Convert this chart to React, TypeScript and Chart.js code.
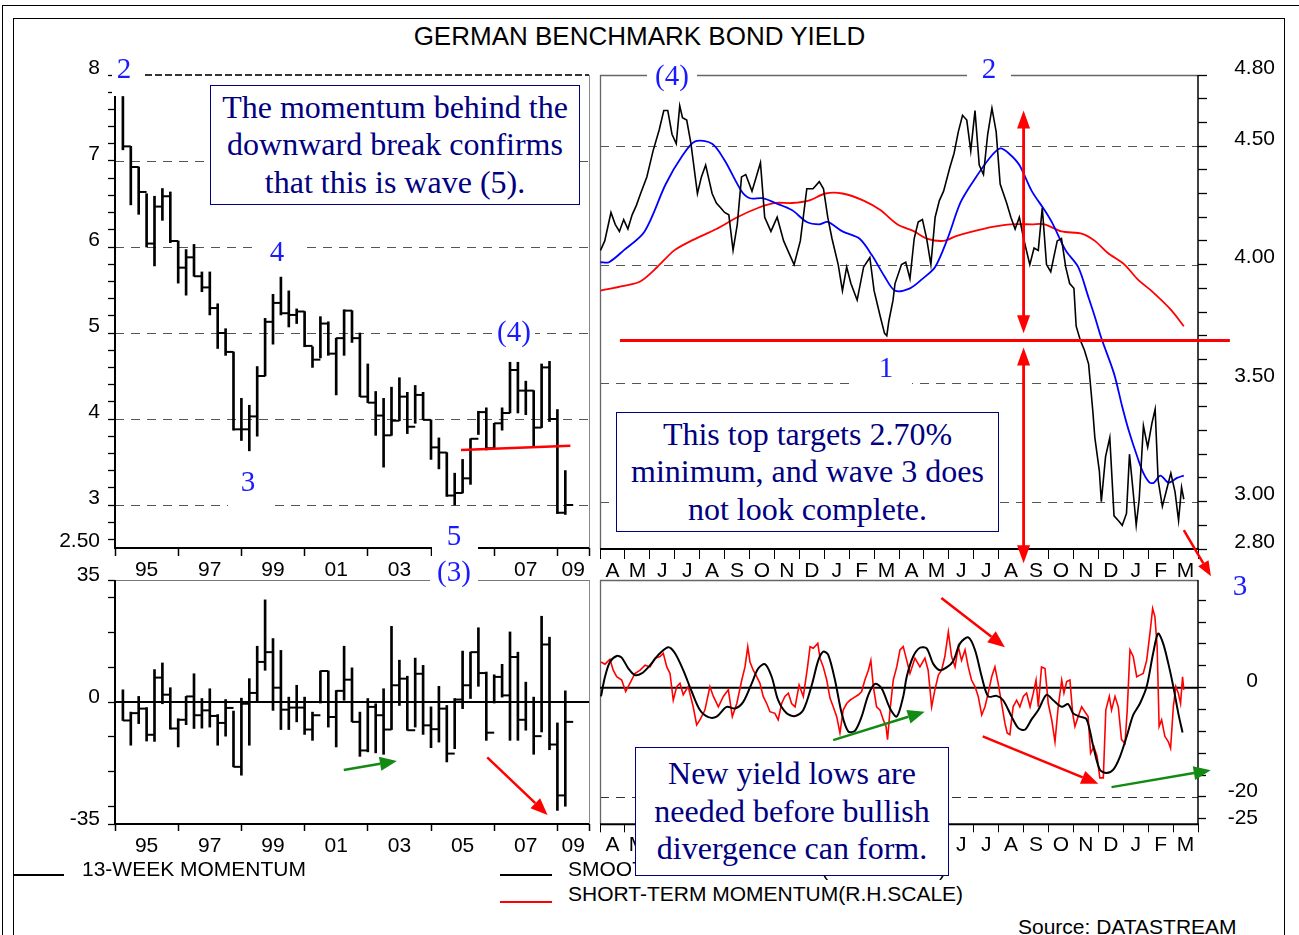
import React, { useEffect, useRef } from 'react';
import { Chart, registerables } from 'chart.js';

Chart.register(...registerables);

const SANS = "'Liberation Sans', Arial, Helvetica, sans-serif";
const SERIF = "'Liberation Serif', 'Times New Roman', Times, serif";
const BLUE = '#1a1aff';
const NAVY = '#000080';
const RED = '#ff0000';
const GREEN = '#138a13';
const GRID = '#555555';
const TRANSPARENT = 'rgba(0,0,0,0)';
const TICK_FONT = { family: SANS, size: 21 };

// ---------------- DATA ----------------
// Top-left: quarterly German benchmark yield, high / low / close (%)
const quarters = [
  '95Q1', '95Q2', '95Q3', '95Q4', '96Q1', '96Q2', '96Q3', '96Q4', '97Q1', '97Q2', '97Q3', '97Q4',
  '98Q1', '98Q2', '98Q3', '98Q4', '99Q1', '99Q2', '99Q3', '99Q4', '00Q1', '00Q2', '00Q3', '00Q4',
  '01Q1', '01Q2', '01Q3', '01Q4', '02Q1', '02Q2', '02Q3', '02Q4', '03Q1', '03Q2', '03Q3', '03Q4',
  '04Q1', '04Q2', '04Q3', '04Q4', '05Q1', '05Q2', '05Q3', '05Q4', '06Q1', '06Q2', '06Q3', '06Q4',
  '07Q1', '07Q2', '07Q3', '07Q4', '08Q1', '08Q2', '08Q3', '08Q4', '09Q1',
];
const yieldHigh = [7.75, 7.17, 6.93, 6.62, 6.59, 6.68, 6.64, 6.07, 5.97, 6.03, 5.71, 5.71, 5.34, 5.05, 4.78, 4.24, 4.16, 4.61, 5.17, 5.45, 5.65, 5.49, 5.28, 5.25, 4.84, 5.19, 5.13, 4.94, 5.27, 5.26, 5.0, 4.64, 4.32, 4.24, 4.37, 4.48, 4.31, 4.39, 4.31, 3.99, 3.78, 3.61, 3.37, 3.53, 3.77, 4.09, 4.13, 3.95, 4.13, 4.66, 4.66, 4.44, 4.33, 4.64, 4.67, 4.11, 3.4];
const yieldLow = [7.13, 6.49, 6.38, 6.0, 5.78, 6.31, 6.05, 5.58, 5.44, 5.66, 5.48, 5.21, 4.82, 4.74, 3.87, 3.75, 3.63, 3.8, 4.5, 4.87, 5.21, 5.07, 5.11, 4.84, 4.6, 4.71, 4.74, 4.28, 4.74, 4.89, 4.26, 4.19, 3.81, 3.44, 3.81, 3.98, 3.83, 3.95, 3.99, 3.53, 3.42, 3.1, 3.0, 3.14, 3.24, 3.82, 3.64, 3.66, 3.87, 4.07, 4.07, 4.05, 3.69, 3.9, 3.97, 2.9, 2.89];
const yieldClose = [7.17, 6.93, 6.64, 6.04, 6.47, 6.59, 6.07, 5.76, 5.88, 5.66, 5.53, 5.29, 5.0, 4.78, 3.88, 3.88, 4.03, 4.5, 5.13, 5.35, 5.23, 5.21, 5.25, 4.85, 4.69, 5.11, 4.76, 4.94, 5.26, 4.94, 4.26, 4.19, 4.04, 3.81, 3.98, 4.26, 3.91, 4.28, 3.99, 3.67, 3.61, 3.11, 3.14, 3.31, 3.77, 4.08, 3.66, 3.95, 4.07, 4.57, 4.33, 4.33, 3.9, 4.6, 4.0, 2.91, 3.0];

// Bottom-left: 13-week momentum per quarter, high / low / close
const momHigh = [3.5, -2.9, 1.6, -1.6, 9.3, 11.2, 4.1, -4.8, 1.6, 8.1, 1.0, 3.8, -3.6, 0.7, -2.6, 1.1, 6.7, 16.0, 29.3, 18.2, 14.8, 1.4, 4.8, 1.4, -2.9, 8.9, 8.9, 3.3, 16.0, 9.8, -2.9, 1.0, -0.5, 3.8, 21.7, 12.0, 7.4, 12.6, 10.5, -1.4, 4.5, -1.0, 1.0, 14.6, 14.3, 21.3, 8.6, 7.8, 10.8, 20.1, 14.3, 5.7, 1.4, 24.6, 18.6, -6.0, 3.2];
const momLow = [-5.3, -12.4, -6.2, -11.2, -11.3, -0.5, -7.8, -12.9, -6.5, -7.6, -7.5, -7.2, -12.4, -9.8, -18.6, -21.0, -12.4, 0.0, 9.1, -2.4, -7.9, -7.9, -5.7, -9.3, -11.0, -0.3, -7.2, -12.9, 0.5, -5.7, -15.6, -14.3, -14.6, -15.0, -7.9, -1.0, -8.1, -7.2, -9.3, -13.1, -11.5, -17.2, -13.4, -1.9, 1.0, 4.5, -11.0, -0.3, 1.4, -11.0, -11.0, -8.1, -15.0, -8.6, -13.7, -31.1, -29.9];
const momClose = [-5.3, -3.2, -1.9, -9.4, 7.0, 2.1, -7.6, -5.1, 1.6, -3.8, -2.4, -4.0, -6.0, -1.7, -18.6, -0.5, 2.6, 11.5, 14.3, 4.1, -2.2, -1.6, -1.6, -7.9, -3.8, 8.9, -4.3, 3.2, 6.4, -5.7, -13.9, -1.4, -3.8, -7.9, 4.8, 6.7, -8.1, 8.1, -6.7, -7.8, -1.9, -14.8, 0.7, 4.8, 14.3, 8.3, -8.8, 7.2, 1.9, 12.9, -5.1, 0.0, -9.8, 16.5, -12.2, -26.8, -5.7];

// Top-right: daily yield Apr 2007 - Mar 2009 (x = months since 1 Apr 2007)
const dailyMonth = [0.02, 0.19, 0.44, 0.61, 0.78, 0.95, 1.12, 1.29, 1.46, 1.63, 1.88, 2.13, 2.38, 2.56, 2.72, 2.89, 3.06, 3.2, 3.31, 3.48, 3.65, 3.91, 4.07, 4.24, 4.5, 4.67, 4.84, 5.0, 5.17, 5.34, 5.51, 5.68, 5.85, 6.1, 6.27, 6.44, 6.61, 6.86, 7.11, 7.37, 7.62, 7.79, 8.04, 8.3, 8.55, 8.8, 8.97, 9.14, 9.31, 9.56, 9.73, 9.9, 10.07, 10.32, 10.58, 10.83, 11.0, 11.25, 11.42, 11.51, 11.59, 11.76, 11.84, 12.1, 12.27, 12.44, 12.61, 12.77, 12.94, 13.11, 13.28, 13.45, 13.62, 13.79, 14.04, 14.21, 14.38, 14.55, 14.72, 14.88, 15.05, 15.22, 15.39, 15.56, 15.73, 15.9, 16.06, 16.32, 16.49, 16.66, 16.83, 17.0, 17.25, 17.42, 17.59, 17.75, 17.92, 18.09, 18.35, 18.52, 18.69, 18.85, 19.02, 19.11, 19.28, 19.44, 19.61, 19.78, 19.86, 20.04, 20.12, 20.29, 20.46, 20.63, 20.8, 20.96, 21.13, 21.25, 21.39, 21.52, 21.64, 21.81, 21.98, 22.15, 22.28, 22.4, 22.57, 22.74, 22.91, 23.08, 23.22, 23.34, 23.43];
const dailyYield = [4.06, 4.1, 4.22, 4.17, 4.14, 4.19, 4.15, 4.21, 4.25, 4.3, 4.37, 4.48, 4.57, 4.65, 4.65, 4.55, 4.51, 4.67, 4.62, 4.61, 4.51, 4.3, 4.37, 4.42, 4.3, 4.26, 4.24, 4.22, 4.21, 4.06, 4.17, 4.37, 4.38, 4.31, 4.37, 4.43, 4.2, 4.14, 4.2, 4.1, 4.04, 4.0, 4.1, 4.32, 4.32, 4.35, 4.32, 4.2, 4.11, 4.0, 3.89, 3.99, 3.92, 3.85, 3.99, 4.03, 3.89, 3.78, 3.71, 3.7, 3.76, 3.85, 3.92, 4.0, 4.01, 3.94, 4.11, 4.18, 4.19, 4.11, 4.0, 4.2, 4.27, 4.31, 4.41, 4.47, 4.56, 4.63, 4.61, 4.48, 4.65, 4.42, 4.38, 4.55, 4.66, 4.56, 4.34, 4.26, 4.2, 4.15, 4.2, 4.11, 4.0, 4.07, 4.06, 4.24, 4.0, 3.97, 4.1, 4.11, 3.99, 3.92, 3.9, 3.74, 3.68, 3.64, 3.58, 3.38, 3.27, 3.13, 3.0, 3.19, 3.27, 2.94, 2.92, 2.9, 2.95, 3.2, 3.05, 2.9, 3.01, 3.32, 3.23, 3.33, 3.39, 3.09, 2.98, 3.05, 3.12, 3.04, 2.92, 3.06, 3.01];
const shortAvgMonth = [0.02, 0.36, 0.95, 1.79, 2.64, 3.31, 3.82, 4.5, 5.0, 5.68, 6.02, 6.52, 7.03, 7.7, 8.3, 8.8, 9.14, 9.73, 10.41, 10.91, 11.42, 11.84, 12.44, 12.94, 13.45, 13.95, 14.46, 14.97, 15.64, 16.06, 16.4, 16.83, 17.33, 17.84, 18.18, 18.69, 19.19, 19.61, 19.86, 20.12, 20.63, 20.96, 21.22, 21.56, 21.81, 22.06, 22.23, 22.49, 22.82, 23.16, 23.43];
const shortAvgValue = [4.01, 4.01, 4.06, 4.14, 4.34, 4.46, 4.52, 4.51, 4.44, 4.31, 4.28, 4.28, 4.26, 4.23, 4.18, 4.17, 4.18, 4.14, 4.11, 4.04, 3.95, 3.89, 3.9, 3.94, 3.99, 4.11, 4.26, 4.35, 4.45, 4.49, 4.47, 4.42, 4.31, 4.23, 4.17, 4.06, 3.99, 3.86, 3.78, 3.69, 3.54, 3.4, 3.3, 3.19, 3.12, 3.08, 3.08, 3.11, 3.08, 3.1, 3.11];
const longAvgMonth = [0.02, 0.95, 1.63, 2.3, 2.98, 3.65, 4.67, 5.51, 6.36, 7.03, 7.7, 8.38, 9.05, 9.73, 10.58, 11.25, 11.93, 12.61, 13.11, 13.79, 14.29, 14.97, 15.81, 16.49, 17.33, 17.84, 18.52, 19.36, 19.86, 20.37, 21.05, 21.56, 22.23, 22.91, 23.43];
const longAvgValue = [3.89, 3.91, 3.93, 3.99, 4.06, 4.1, 4.15, 4.2, 4.24, 4.26, 4.26, 4.27, 4.3, 4.3, 4.27, 4.23, 4.17, 4.14, 4.11, 4.1, 4.12, 4.14, 4.16, 4.17, 4.17, 4.17, 4.14, 4.13, 4.1, 4.05, 4.0, 3.94, 3.88, 3.81, 3.74];

// Bottom-right: smoothed momentum and short-term momentum
const smoothMonth = [0.04, 0.2, 0.4, 0.67, 0.87, 1.14, 1.4, 1.67, 2.01, 2.34, 2.74, 3.01, 3.34, 3.68, 4.01, 4.35, 4.68, 5.08, 5.42, 5.75, 6.09, 6.35, 6.62, 6.89, 7.15, 7.49, 7.83, 8.16, 8.5, 8.76, 8.96, 9.16, 9.43, 9.7, 9.96, 10.23, 10.5, 10.77, 11.04, 11.3, 11.64, 11.91, 12.17, 12.31, 12.57, 12.84, 13.11, 13.37, 13.64, 13.91, 14.18, 14.45, 14.78, 15.05, 15.32, 15.58, 15.92, 16.18, 16.52, 16.79, 17.05, 17.32, 17.59, 17.92, 18.19, 18.53, 18.79, 18.99, 19.26, 19.53, 19.8, 20.06, 20.33, 20.6, 20.87, 21.14, 21.4, 21.67, 21.94, 22.2, 22.4, 22.6, 22.81, 23.01, 23.21, 23.38];
const smoothValue = [-1.6, 2.0, 4.7, 5.8, 5.5, 3.5, 2.3, 2.6, 4.1, 6.0, 7.4, 6.3, 3.2, -0.7, -4.1, -5.4, -5.3, -3.5, -3.8, -2.6, 0.8, 3.5, 4.3, 2.0, -2.3, -4.7, -5.2, -4.1, 0.5, 5.0, 6.6, 6.0, 1.4, -4.7, -8.0, -7.9, -5.3, -1.3, 0.7, -0.1, -3.8, -5.3, -1.6, 2.0, 5.7, 7.3, 7.2, 4.4, 3.2, 3.7, 4.9, 8.1, 9.2, 6.9, 2.0, -1.6, -1.5, -2.3, -5.3, -7.4, -7.7, -5.8, -4.1, -1.3, -2.3, -3.5, -3.0, -4.7, -5.3, -5.8, -10.8, -15.0, -15.6, -15.0, -12.6, -8.9, -5.0, -2.9, 0.2, 6.3, 9.9, 8.1, 4.4, 0.2, -4.7, -8.2];
const shortMonth = [0.04, 0.2, 0.4, 0.53, 0.67, 0.87, 1.03, 1.2, 1.4, 1.61, 1.81, 2.01, 2.21, 2.41, 2.54, 2.68, 2.81, 2.94, 3.08, 3.21, 3.34, 3.54, 3.74, 3.88, 4.01, 4.21, 4.41, 4.55, 4.75, 4.95, 5.15, 5.31, 5.49, 5.69, 5.82, 5.93, 6.02, 6.15, 6.29, 6.42, 6.55, 6.69, 6.82, 7.02, 7.15, 7.29, 7.42, 7.56, 7.69, 7.83, 7.99, 8.16, 8.33, 8.43, 8.56, 8.74, 8.83, 8.96, 9.1, 9.23, 9.36, 9.5, 9.63, 9.76, 9.9, 10.03, 10.16, 10.37, 10.5, 10.63, 10.77, 10.87, 10.97, 11.1, 11.24, 11.37, 11.48, 11.54, 11.64, 11.77, 11.91, 12.04, 12.17, 12.31, 12.44, 12.64, 12.84, 13.04, 13.17, 13.31, 13.44, 13.58, 13.71, 13.84, 13.98, 14.11, 14.25, 14.38, 14.51, 14.65, 14.78, 14.91, 15.05, 15.18, 15.32, 15.45, 15.58, 15.72, 15.85, 15.98, 16.12, 16.25, 16.34, 16.45, 16.58, 16.72, 16.85, 16.99, 17.12, 17.26, 17.39, 17.5, 17.59, 17.72, 17.86, 17.99, 18.13, 18.26, 18.39, 18.53, 18.62, 18.73, 18.86, 18.97, 19.06, 19.19, 19.33, 19.46, 19.59, 19.69, 19.82, 19.95, 20.06, 20.2, 20.3, 20.44, 20.53, 20.67, 20.8, 20.93, 21.07, 21.16, 21.27, 21.4, 21.54, 21.67, 21.8, 21.94, 22.07, 22.18, 22.27, 22.36, 22.44, 22.54, 22.67, 22.81, 22.9, 23.01, 23.11, 23.21, 23.3, 23.38, 23.43];
const shortValue = [4.7, 4.3, 5.2, 3.2, 2.0, 1.4, -0.7, 0.8, 2.6, 3.2, 4.1, 3.8, 5.4, 5.7, 6.3, 3.8, 2.6, -2.3, 0.2, 0.8, -1.3, 0.2, -3.5, -6.8, -5.9, -4.1, 0.2, -1.6, -3.5, -1.6, -0.4, -5.3, -2.9, 1.4, 3.8, 7.5, 4.7, 3.2, 2.0, 0.8, -1.6, -2.9, -4.4, -4.7, -5.9, -2.9, -1.6, -1.0, -2.9, -3.5, 0.5, -1.6, 3.8, 7.5, 7.2, 8.1, 5.4, 3.8, 1.4, -1.9, -3.5, -5.3, -8.3, -4.1, -2.9, -2.3, -1.9, -1.3, -0.7, 1.4, 3.2, 5.0, 0.2, -3.5, -4.1, -5.9, -7.1, -9.5, -4.1, 1.4, 3.8, 6.9, 7.5, 5.0, 2.6, 5.4, 3.8, 5.4, 3.2, -3.5, -0.4, 2.3, 3.2, 5.7, 10.2, 5.7, 3.8, 7.5, 5.0, 6.9, 3.8, 1.4, 0.2, -1.6, -5.0, -3.5, -1.0, 2.0, 3.8, 0.8, -2.9, -6.5, -8.3, -8.6, -3.5, -2.3, -3.5, -1.6, -1.0, -3.5, -1.0, 1.4, -3.5, 3.8, 3.5, -2.9, -5.9, -9.9, -3.5, 1.4, -1.0, 1.1, 1.4, -4.7, -7.1, -5.3, -3.5, -4.4, -5.3, -12.0, -10.8, -12.6, -16.5, -16.5, -4.1, -1.6, -4.1, -1.6, -3.5, -9.5, -10.2, -4.1, 6.9, 5.7, 2.0, 2.3, 2.6, 5.0, 9.9, 14.5, 13.0, 7.5, -7.1, -5.9, -8.9, -9.9, -11.1, -3.5, 0.2, -1.0, -2.9, 2.0, -0.4];

// Axis tick labels
const yearLabels = ['95', '97', '99', '01', '03', '05', '07', '09'];
const yearLabelPos = [1996, 1998, 2000, 2002, 2004, 2006, 2008, 2009.5];
const yearTickPos = [1995, 1997, 1999, 2001, 2003, 2005, 2007, 2009, 2010];
const monthLabels = ['A', 'M', 'J', 'J', 'A', 'S', 'O', 'N', 'D', 'J', 'F', 'M', 'A', 'M', 'J', 'J', 'A', 'S', 'O', 'N', 'D', 'J', 'F', 'M'];
const tlYVals = [8, 7, 6, 5, 4, 3, 2.5];
const tlYText = ['8', '7', '6', '5', '4', '3', '2.50'];
const trYVals = [4.8, 4.5, 4.0, 3.5, 3.0, 2.8];
const trYText = ['4.80', '4.50', '4.00', '3.50', '3.00', '2.80'];
const blYVals = [35, 0, -35];
const blYText = ['35', '0', '-35'];
const blYMinor = [-30, -20, -10, 10, 20, 30];
const brYVals = [0, -20, -25];
const brYText = ['0', '-20', '-25'];
const brYMinor = [-24, -16, -12, -8, -4, 4, 8, 12, 16];

// Annotations, in data units
const tlTrend = [2005.95, 3.64, 2009.41, 3.69];
const blArrows = [
  { c: GREEN, p: [2002.24, -19.5, 2003.92, -16.9] },
  { c: RED, p: [2006.78, -15.9, 2008.69, -32.4] },
];
const trSupport = [0.8, 25.28, 3.68];
const trTargetX = 17.0;
const trTargetUpper = [4.65, 3.71];
const trTargetLower = [3.65, 2.74];
const trWave3Arrow = [23.43, 2.88, 24.52, 2.685];
const brArrows = [
  { c: RED, p: [13.7, 16.4, 16.25, 7.4] },
  { c: GREEN, p: [9.36, -9.6, 13.03, -4.4] },
  { c: RED, p: [15.36, -8.9, 20.0, -17.6] },
  { c: GREEN, p: [20.53, -18.2, 24.51, -15.1] },
];

// ---------------- HELPERS ----------------
const near = (a: number, b: number) => Math.abs(a - b) < 1e-6;
const qx = (q: string) => {
  const yy = Number(q.slice(0, 2));
  return (yy > 50 ? 1900 : 2000) + yy + Number(q[3]) * 0.25;
};
const zip = (xs: number[], ys: number[]) => xs.map((x, i) => ({ x, y: ys[i] }));

function tickSet(a: number[], b: number[]) {
  const all = a.slice();
  b.forEach((m) => {
    if (!all.some((v) => near(v, m))) all.push(m);
  });
  return all.sort((p, q) => p - q);
}
function labelOf(v: number, vals: number[], texts: string[]) {
  const i = vals.findIndex((t) => near(t, v));
  return i >= 0 ? texts[i] : '';
}

function seg(ctx: any, x0: number, y0: number, x1: number, y1: number, color: string, w: number, dash: number[] = []) {
  ctx.save();
  ctx.beginPath();
  ctx.setLineDash(dash);
  ctx.strokeStyle = color;
  ctx.lineWidth = w;
  ctx.moveTo(x0, y0);
  ctx.lineTo(x1, y1);
  ctx.stroke();
  ctx.restore();
}
function head(ctx: any, x0: number, y0: number, x1: number, y1: number, color: string, len: number, half: number) {
  const a = Math.atan2(y1 - y0, x1 - x0);
  const bx = x1 - len * Math.cos(a);
  const by = y1 - len * Math.sin(a);
  ctx.save();
  ctx.fillStyle = color;
  ctx.beginPath();
  ctx.moveTo(x1, y1);
  ctx.lineTo(bx + half * Math.sin(a), by - half * Math.cos(a));
  ctx.lineTo(bx - half * Math.sin(a), by + half * Math.cos(a));
  ctx.closePath();
  ctx.fill();
  ctx.restore();
  return [bx, by];
}
function arrow(ctx: any, x0: number, y0: number, x1: number, y1: number, color: string, w = 2.5, len = 17, half = 7) {
  const [bx, by] = head(ctx, x0, y0, x1, y1, color, len, half);
  seg(ctx, x0, y0, bx, by, color, w);
}
function doubleArrow(ctx: any, x: number, yTop: number, yBot: number, color: string) {
  head(ctx, x, yBot, x, yTop, color, 18, 6.5);
  head(ctx, x, yTop, x, yBot, color, 18, 6.5);
  seg(ctx, x, yTop + 17, x, yBot - 17, color, 2.8);
}

function valueAxis(o: any) {
  const ticks = tickSet(o.vals, o.minor);
  return {
    type: 'linear',
    position: o.pos,
    min: o.min,
    max: o.max,
    afterBuildTicks: (s: any) => {
      s.ticks = ticks.map((v) => ({ value: v }));
    },
    afterFit: (s: any) => {
      s.width = o.width;
    },
    border: { display: false },
    grid: {
      drawOnChartArea: false,
      drawTicks: true,
      tickLength: o.tickLen,
      tickWidth: 1.3,
      tickColor: (c: any) => (c.tick && (o.hide || []).some((h: number) => near(h, c.tick.value)) ? TRANSPARENT : '#000'),
    },
    ticks: {
      autoSkip: false,
      padding: o.pad,
      labelOffset: o.offset,
      crossAlign: o.cross || 'near',
      color: '#000',
      font: TICK_FONT,
      callback: (v: any) => labelOf(Number(v), o.vals, o.texts),
    },
  };
}

function yearAxis(height: number, tickLen: number, pad: number) {
  const ticks = tickSet(yearLabelPos, yearTickPos);
  return {
    type: 'linear',
    min: 1995,
    max: 2010,
    offset: false,
    afterBuildTicks: (s: any) => {
      s.ticks = ticks.map((v) => ({ value: v }));
    },
    afterFit: (s: any) => {
      s.height = height;
    },
    border: { display: false },
    grid: {
      offset: false,
      drawOnChartArea: false,
      drawTicks: true,
      tickLength: tickLen,
      tickWidth: 1.5,
      tickColor: (c: any) => (c.tick && yearTickPos.some((t) => near(t, c.tick.value)) ? '#000' : TRANSPARENT),
    },
    ticks: {
      autoSkip: false,
      maxRotation: 0,
      minRotation: 0,
      padding: pad,
      color: '#000',
      font: TICK_FONT,
      callback: (v: any) => labelOf(Number(v), yearLabelPos, yearLabels),
    },
  };
}

function monthAxis(height: number, tickLen: number, pad: number) {
  const ticks: number[] = [];
  for (let k = 0; k <= 48; k++) ticks.push(k / 2);
  return {
    type: 'linear',
    min: 0,
    max: 24,
    offset: false,
    afterBuildTicks: (s: any) => {
      s.ticks = ticks.map((v) => ({ value: v }));
    },
    afterFit: (s: any) => {
      s.height = height;
    },
    border: { display: false },
    grid: {
      offset: false,
      drawOnChartArea: false,
      drawTicks: true,
      tickLength: tickLen,
      tickWidth: 1,
      tickColor: (c: any) => (c.tick && Number.isInteger(c.tick.value) ? '#000' : TRANSPARENT),
    },
    ticks: {
      autoSkip: false,
      maxRotation: 0,
      minRotation: 0,
      padding: pad,
      color: '#000',
      font: TICK_FONT,
      callback: (v: any) => {
        const n = Number(v);
        return Number.isInteger(n) ? '' : monthLabels[Math.floor(n)];
      },
    },
  };
}

const baseOptions = (padding: any) => ({
  responsive: false,
  animation: false,
  events: [],
  layout: { padding },
  plugins: { legend: { display: false }, tooltip: { enabled: false } },
});

function hiLoDatasets(high: number[], low: number[], close: number[]) {
  return [
    {
      type: 'bar',
      data: quarters.map((q, i) => ({ x: qx(q), y: [low[i], high[i]] })),
      backgroundColor: '#000',
      borderWidth: 0,
      barThickness: 2,
      grouped: false,
    },
    {
      type: 'line',
      data: quarters.map((q, i) => ({ x: qx(q) + 0.125, y: close[i] })),
      showLine: false,
      pointStyle: 'line',
      pointRadius: 3.95,
      pointHoverRadius: 3.95,
      pointBorderWidth: 2,
      pointBorderColor: '#000',
      borderColor: '#000',
    },
  ];
}

// ---------------- CHART BUILDERS ----------------
function buildTopLeft() {
  const minor: number[] = [];
  for (let k = 13; k <= 40; k++) minor.push(k / 5);
  const frame = {
    id: 'tlFrame',
    beforeDatasetsDraw(chart: any) {
      const { ctx, chartArea: a, scales } = chart;
      [7, 6, 5, 4, 3].forEach((v) => {
        const p = Math.round(scales.y.getPixelForValue(v)) + 0.5;
        seg(ctx, a.left, p, a.right, p, GRID, 1, [9, 7]);
      });
      seg(ctx, a.left, a.top, a.right, a.top, '#333', 2, [7, 3]);
      seg(ctx, a.right + 0.5, a.top, a.right + 0.5, a.bottom, '#888', 1);
      seg(ctx, a.left, a.top, a.left, a.bottom + 1, '#000', 2);
      seg(ctx, a.left - 1, a.bottom, a.right, a.bottom, '#000', 2);
    },
    afterDatasetsDraw(chart: any) {
      const { ctx, scales } = chart;
      const { x, y } = scales;
      seg(ctx, x.getPixelForValue(tlTrend[0]), y.getPixelForValue(tlTrend[1]), x.getPixelForValue(tlTrend[2]), y.getPixelForValue(tlTrend[3]), RED, 2.5);
    },
  };
  return {
    type: 'bar',
    data: { datasets: hiLoDatasets(yieldHigh, yieldLow, yieldClose) },
    options: {
      ...baseOptions({ top: 25, right: 6, left: 0, bottom: 0 }),
      scales: {
        x: yearAxis(42, 8, 2),
        y: valueAxis({ pos: 'left', min: 2.5, max: 8, width: 95, tickLen: 7, pad: 8, offset: -7, vals: tlYVals, texts: tlYText, minor, hide: [2.5] }),
      },
    },
    plugins: [frame],
  };
}

function buildBottomLeft() {
  const frame = {
    id: 'blFrame',
    beforeDatasetsDraw(chart: any) {
      const { ctx, chartArea: a, scales } = chart;
      seg(ctx, a.left, a.top + 0.5, a.right, a.top + 0.5, '#777', 1);
      seg(ctx, a.right + 0.5, a.top, a.right + 0.5, a.bottom, '#888', 1);
      const z = scales.y.getPixelForValue(0);
      seg(ctx, a.left, z, a.right, z, '#000', 2);
      seg(ctx, a.left, a.top, a.left, a.bottom + 1, '#000', 2);
      seg(ctx, a.left - 1, a.bottom, a.right, a.bottom, '#000', 2);
    },
    afterDatasetsDraw(chart: any) {
      const { ctx, scales } = chart;
      const { x, y } = scales;
      blArrows.forEach((r) => arrow(ctx, x.getPixelForValue(r.p[0]), y.getPixelForValue(r.p[1]), x.getPixelForValue(r.p[2]), y.getPixelForValue(r.p[3]), r.c));
    },
  };
  return {
    type: 'bar',
    data: { datasets: hiLoDatasets(momHigh, momLow, momClose) },
    options: {
      ...baseOptions({ top: 25, right: 6, left: 0, bottom: 0 }),
      scales: {
        x: yearAxis(36, 7, 3),
        y: valueAxis({ pos: 'left', min: -35, max: 35, width: 95, tickLen: 7, pad: 8, offset: -5, vals: blYVals, texts: blYText, minor: blYMinor }),
      },
    },
    plugins: [frame],
  };
}

function buildTopRight() {
  const minor: number[] = [];
  for (let k = 28; k <= 48; k++) minor.push(k / 10);
  const frame = {
    id: 'trFrame',
    beforeDatasetsDraw(chart: any) {
      const { ctx, chartArea: a, scales } = chart;
      [4.5, 4.0, 3.5, 3.0].forEach((v) => {
        const p = Math.round(scales.y.getPixelForValue(v)) + 0.5;
        seg(ctx, a.left, p, a.right, p, GRID, 1, [9, 7]);
      });
      seg(ctx, a.left, a.top + 0.5, a.right, a.top + 0.5, '#666', 1.3);
      seg(ctx, a.left + 0.5, a.top, a.left + 0.5, a.bottom, '#666', 1.3);
      seg(ctx, a.right, a.top, a.right, a.bottom, '#000', 1.5);
      seg(ctx, a.left, a.bottom, a.right + 1, a.bottom, '#000', 2);
    },
    afterDatasetsDraw(chart: any) {
      const { ctx, scales } = chart;
      const { x, y } = scales;
      const ys = y.getPixelForValue(trSupport[2]);
      seg(ctx, x.getPixelForValue(trSupport[0]), ys, x.getPixelForValue(trSupport[1]), ys, RED, 3);
      const tx = x.getPixelForValue(trTargetX);
      doubleArrow(ctx, tx, y.getPixelForValue(trTargetUpper[0]), y.getPixelForValue(trTargetUpper[1]), RED);
      doubleArrow(ctx, tx, y.getPixelForValue(trTargetLower[0]), y.getPixelForValue(trTargetLower[1]), RED);
      arrow(ctx, x.getPixelForValue(trWave3Arrow[0]), y.getPixelForValue(trWave3Arrow[1]), x.getPixelForValue(trWave3Arrow[2]), y.getPixelForValue(trWave3Arrow[3]), RED, 2.5, 15, 6);
    },
  };
  return {
    type: 'line',
    data: {
      datasets: [
        { data: zip(dailyMonth, dailyYield), borderColor: '#000', borderWidth: 1.6, pointRadius: 0, tension: 0 },
        { data: zip(shortAvgMonth, shortAvgValue), borderColor: '#0000ff', borderWidth: 1.8, pointRadius: 0, tension: 0.3 },
        { data: zip(longAvgMonth, longAvgValue), borderColor: RED, borderWidth: 1.8, pointRadius: 0, tension: 0.3 },
      ],
    },
    options: {
      ...baseOptions({ top: 25, right: 20, left: 5, bottom: 0 }),
      scales: {
        x: monthAxis(36, 10, 0),
        y: valueAxis({ pos: 'right', min: 2.8, max: 4.8, width: 77, tickLen: 9, pad: 2, offset: -7, vals: trYVals, texts: trYText, minor, cross: 'far' }),
      },
    },
    plugins: [frame],
  };
}

function buildBottomRight() {
  const frame = {
    id: 'brFrame',
    beforeDatasetsDraw(chart: any) {
      const { ctx, chartArea: a, scales } = chart;
      const d = Math.round(scales.y.getPixelForValue(-20)) + 0.5;
      seg(ctx, a.left, d, a.right, d, '#333', 1, [9, 7]);
      seg(ctx, a.left, a.top + 0.5, a.right, a.top + 0.5, '#666', 1.3);
      seg(ctx, a.left + 0.5, a.top, a.left + 0.5, a.bottom, '#666', 1.3);
      const z = scales.y.getPixelForValue(0);
      seg(ctx, a.left, z, a.right, z, '#000', 2);
      seg(ctx, a.right, a.top, a.right, a.bottom, '#000', 1.5);
      seg(ctx, a.left, a.bottom, a.right + 1, a.bottom, '#000', 2);
    },
    afterDatasetsDraw(chart: any) {
      const { ctx, scales } = chart;
      const { x, y } = scales;
      brArrows.forEach((r) => arrow(ctx, x.getPixelForValue(r.p[0]), y.getPixelForValue(r.p[1]), x.getPixelForValue(r.p[2]), y.getPixelForValue(r.p[3]), r.c));
    },
  };
  return {
    type: 'line',
    data: {
      datasets: [
        { data: zip(smoothMonth, smoothValue), borderColor: '#000', borderWidth: 2, pointRadius: 0, tension: 0.3 },
        { data: zip(shortMonth, shortValue), borderColor: RED, borderWidth: 1.6, pointRadius: 0, tension: 0 },
      ],
    },
    options: {
      ...baseOptions({ top: 25, right: 37, left: 5, bottom: 0 }),
      scales: {
        x: monthAxis(35.7, 8, 0),
        y: valueAxis({ pos: 'right', min: -25, max: 19.7, width: 60, tickLen: 8, pad: 2, offset: -6, vals: brYVals, texts: brYText, minor: brYMinor, cross: 'far', hide: [-25] }),
      },
    },
    plugins: [frame],
  };
}

// ---------------- COMPONENTS ----------------
function ChartCanvas(props: { left: number; top: number; width: number; height: number; build: () => any }) {
  const ref = useRef<HTMLCanvasElement>(null);
  useEffect(() => {
    const chart = new Chart(ref.current as HTMLCanvasElement, props.build());
    return () => chart.destroy();
  }, []);
  return (
    <canvas
      ref={ref}
      width={props.width}
      height={props.height}
      style={{ position: 'absolute', left: props.left, top: props.top, width: props.width, height: props.height }}
    />
  );
}

const waveLabels = [
  { t: '2', cx: 124, cy: 68, box: [112, 50, 30, 46] },
  { t: '4', cx: 277, cy: 251, box: [253, 233, 49, 35] },
  { t: '3', cx: 248, cy: 481, box: [228, 461, 42, 50] },
  { t: '(4)', cx: 514, cy: 331, box: [495, 314, 40, 36] },
  { t: '5', cx: 454, cy: 535, box: [432, 514, 46, 42] },
  { t: '(3)', cx: 454, cy: 571, box: [430, 556, 48, 36] },
  { t: '(4)', cx: 672, cy: 75, box: [647, 56, 50, 40] },
  { t: '2', cx: 989, cy: 68, box: [967, 50, 44, 44] },
  { t: '1', cx: 886, cy: 367, box: [856, 350, 56, 34] },
  { t: '3', cx: 1240, cy: 585, box: null },
];

const noteBoxes = [
  { box: [210, 85, 370, 120], lines: ['The momentum behind the', 'downward break confirms', 'that this is wave (5).'] },
  { box: [616, 412, 383, 120], lines: ['This top targets 2.70%', 'minimum, and wave 3 does', 'not look complete.'] },
  { box: [635, 747, 314, 129], lines: ['New yield lows are', 'needed before bullish', 'divergence can form.'] },
];

function Abs(props: any) {
  return <div style={{ position: 'absolute', ...props.style }}>{props.children}</div>;
}

export default function App() {
  return (
    <div style={{ position: 'fixed', left: 0, top: 0, width: 1299, height: 935, background: '#fff', overflow: 'hidden', fontFamily: SANS }}>
      {/* frames */}
      <Abs style={{ left: 2, top: 5, width: 1400, height: 1000, borderLeft: '1.5px solid #000', borderTop: '1.5px solid #000' }} />
      <Abs style={{ left: 13, top: 18, width: 1272, height: 1000, border: '1.5px solid #000', boxSizing: 'border-box' }} />

      {/* title */}
      <Abs style={{ left: 0, top: 22, width: 1279, textAlign: 'center', fontSize: 26, lineHeight: '29px', color: '#000', whiteSpace: 'nowrap' }}>
        GERMAN BENCHMARK BOND YIELD
      </Abs>

      <ChartCanvas left={20} top={50} width={575} height={540} build={buildTopLeft} />
      <ChartCanvas left={20} top={555} width={575} height={305} build={buildBottomLeft} />
      <ChartCanvas left={595} top={50} width={700} height={535} build={buildTopRight} />
      <ChartCanvas left={595} top={555} width={700} height={305} build={buildBottomRight} />

      {/* legends */}
      <Abs style={{ left: 13, top: 874, width: 51, height: 0, borderTop: '2px solid #000' }} />
      <Abs style={{ left: 82, top: 857, fontSize: 21, lineHeight: '24px', whiteSpace: 'nowrap' }}>13-WEEK MOMENTUM</Abs>
      <Abs style={{ left: 500, top: 874, width: 52, height: 0, borderTop: '2px solid #000' }} />
      <Abs style={{ left: 500, top: 901, width: 52, height: 0, borderTop: '2px solid ' + RED }} />
      <Abs style={{ left: 568, top: 857, fontSize: 21, lineHeight: '24px', whiteSpace: 'nowrap' }}>SMOOTHED MOMENTUM(R.H.SCALE)</Abs>
      <Abs style={{ left: 568, top: 882, fontSize: 21, lineHeight: '24px', whiteSpace: 'nowrap' }}>SHORT-TERM MOMENTUM(R.H.SCALE)</Abs>
      <Abs style={{ left: 1018, top: 915, fontSize: 21, lineHeight: '24px', whiteSpace: 'nowrap' }}>Source: DATASTREAM</Abs>

      {/* wave labels */}
      {waveLabels.map((w, i) => (
        <React.Fragment key={'w' + i}>
          {w.box && <Abs style={{ left: w.box[0], top: w.box[1], width: w.box[2], height: w.box[3], background: '#fff' }} />}
          <Abs style={{ left: w.cx - 40, top: w.cy - 17, width: 80, height: 34, lineHeight: '34px', textAlign: 'center', fontFamily: SERIF, fontSize: 29, color: BLUE }}>
            {w.t}
          </Abs>
        </React.Fragment>
      ))}

      {/* note boxes (on top of legend text) */}
      {noteBoxes.map((n, i) => (
        <Abs
          key={'n' + i}
          style={{
            left: n.box[0], top: n.box[1], width: n.box[2], height: n.box[3], boxSizing: 'border-box',
            border: '1.3px solid ' + NAVY, background: '#fff', display: 'flex', flexDirection: 'column',
            justifyContent: 'center', alignItems: 'center', fontFamily: SERIF, fontSize: 32, lineHeight: '37.5px',
            color: NAVY, whiteSpace: 'nowrap',
          }}
        >
          {n.lines.map((l, j) => (
            <div key={j}>{l}</div>
          ))}
        </Abs>
      ))}
    </div>
  );
}
